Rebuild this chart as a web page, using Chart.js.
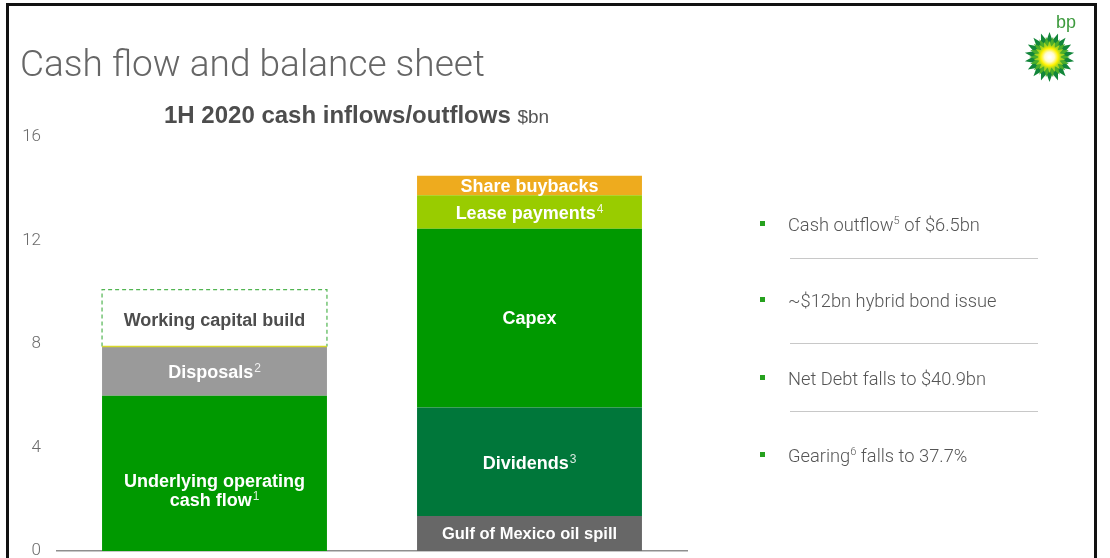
<!DOCTYPE html>
<html>
<head>
<meta charset="utf-8">
<script src="https://cdn.jsdelivr.net/npm/chart.js@4.4.1/dist/chart.umd.min.js"></script>
<style>
  html, body { margin:0; padding:0; width:1110px; height:558px; overflow:hidden; background:#fff; }
  #frame { position:absolute; left:6px; top:3px; width:1085px; height:600px; border:3px solid #111; box-sizing:content-box; }
  #chart { position:absolute; left:0; top:0; }
  .t { position:absolute; white-space:nowrap; }
  #title { left:20px; top:45px; font-family:'Roboto'; font-weight:300; font-size:37px; line-height:37px; color:#666; }
  #subtitle { left:164px; top:103px; font-family:'Liberation Sans'; font-weight:bold; font-size:24px; line-height:24px; color:#4d4d4d; }
  #subtitle span { font-weight:normal; font-size:19px; color:#555; }
  .bul { position:absolute; width:5px; height:5px; background:#26a11e; }
  .pt { position:absolute; left:788px; font-family:'Roboto'; font-weight:300; font-size:18.3px; line-height:18px; color:#555; white-space:nowrap; }
  .pt sup { font-size:11px; line-height:0; vertical-align:7px; }
  .sep { position:absolute; left:790px; width:248px; height:1px; background:#c8c8c8; }
  #bp { left:1056px; top:13px; font-family:'Liberation Sans'; font-size:18px; line-height:18px; color:#3c9a3c; }
</style>
</head>
<body>
<div id="frame"></div>
<canvas id="chart" width="1110" height="580" style="width:1110px;height:580px"></canvas>
<div class="t" id="title">Cash flow and balance sheet</div>
<div class="t" id="subtitle">1H 2020 cash inflows/outflows <span>$bn</span></div>
<div class="t" id="bp">bp</div>

<div class="bul" style="left:760px;top:221px"></div>
<div class="pt" style="top:216px">Cash outflow<sup>5</sup> of $6.5bn</div>
<div class="sep" style="top:258px"></div>
<div class="bul" style="left:760px;top:297px"></div>
<div class="pt" style="top:292px">~$12bn hybrid bond issue</div>
<div class="sep" style="top:343px"></div>
<div class="bul" style="left:760px;top:375px"></div>
<div class="pt" style="top:370px">Net Debt falls to $40.9bn</div>
<div class="sep" style="top:411px"></div>
<div class="bul" style="left:760px;top:452px"></div>
<div class="pt" style="top:447px">Gearing<sup>6</sup> falls to 37.7%</div>

<script>
// ---- data ----
const categories = ['Inflows', 'Outflows'];
const inflowLabels = ['Underlying operating\ncash flow', 'Disposals', 'Working capital build'];
const inflowNotes = ['1', '2', ''];
const inflowValues = [6.0, 1.9, 2.2];
const outflowLabels = ['Gulf of Mexico oil spill', 'Dividends', 'Capex', 'Lease payments', 'Share buybacks'];
const outflowNotes = ['', '3', '', '4', ''];
const outflowValues = [1.35, 4.2, 6.9, 1.3, 0.75];
const yTicks = [0, 4, 8, 12, 16];

// ---- styles ----
const inflowColors = ['#009900', '#9a9a9a', '#ffffff'];
const outflowColors = ['#676767', '#00773a', '#009900', '#99cc00', '#eeab1e'];
const inflowTextColors = ['#ffffff', '#ffffff', '#4d4d4d'];
const outflowTextColors = ['#ffffff', '#ffffff', '#ffffff', '#ffffff', '#ffffff'];
const inflowFontSize = [18, 18, 18];
const outflowFontSize = [16.5, 18, 18, 18, 18];
const inflowLabelShift = [17, 0, 1.5];
const outflowLabelShift = [0, 1, -1, 0, 0];
const dashedIndex = 2; // working capital build segment is outlined

const layers = Math.max(inflowValues.length, outflowValues.length);
const datasets = [];
for (let i = 0; i < layers; i++) {
  datasets.push({
    data: [i < inflowValues.length ? inflowValues[i] : null, i < outflowValues.length ? outflowValues[i] : null],
    backgroundColor: [inflowColors[i] || '#fff', outflowColors[i] || '#fff'],
    borderWidth: 0,
    categoryPercentage: 1,
    barPercentage: 0.714
  });
}

const segmentLabels = {
  id: 'segmentLabels',
  afterDatasetsDraw(chart) {
    const ctx = chart.ctx;
    ctx.save();
    chart.data.datasets.forEach((ds, d) => {
      const meta = chart.getDatasetMeta(d);
      meta.data.forEach((el, c) => {
        const v = ds.data[c];
        if (v === null || v === undefined) return;
        const p = el.getProps(['x', 'y', 'base', 'width'], true);
        const lab = c === 0 ? inflowLabels[d] : outflowLabels[d];
        const note = c === 0 ? inflowNotes[d] : outflowNotes[d];
        const col = c === 0 ? inflowTextColors[d] : outflowTextColors[d];
        const shift = c === 0 ? inflowLabelShift[d] : outflowLabelShift[d];
        const fs = c === 0 ? inflowFontSize[d] : outflowFontSize[d];
        if (c === 0 && d === dashedIndex) {
          ctx.save();
          ctx.setLineDash([4, 3]);
          ctx.strokeStyle = '#52b552';
          ctx.lineWidth = 1.2;
          const l = p.x - p.width / 2, r = p.x + p.width / 2;
          ctx.beginPath();
          ctx.moveTo(l, p.base); ctx.lineTo(l, p.y); ctx.lineTo(r, p.y); ctx.lineTo(r, p.base);
          ctx.stroke();
          ctx.setLineDash([]);
          ctx.strokeStyle = '#d8d82a';
          ctx.lineWidth = 1.5;
          ctx.beginPath(); ctx.moveTo(l, p.base); ctx.lineTo(r, p.base); ctx.stroke();
          ctx.restore();
        }
        const lines = lab.split('\n');
        const lh = 19;
        const cy = (p.y + p.base) / 2 + shift;
        const mainFont = 'bold ' + fs + 'px "Liberation Sans"';
        const supFont = '12px "Liberation Sans"';
        lines.forEach((ln, k) => {
          const isLast = k === lines.length - 1;
          const by = cy + (k - (lines.length - 1) / 2) * lh + fs * 0.36;
          ctx.font = mainFont;
          const w1 = ctx.measureText(ln).width;
          let w2 = 0;
          if (isLast && note) { ctx.font = supFont; w2 = ctx.measureText(note).width + 1; }
          const sx = p.x - (w1 + w2) / 2;
          ctx.textAlign = 'left';
          ctx.textBaseline = 'alphabetic';
          ctx.font = mainFont;
          ctx.fillStyle = col;
          ctx.fillText(ln, sx, by);
          if (isLast && note) {
            ctx.font = supFont;
            ctx.fillStyle = 'rgba(255,255,255,0.85)';
            ctx.fillText(note, sx + w1 + 1, by - 6);
          }
        });
      });
    });
    ctx.restore();
  }
};

const helios = {
  id: 'helios',
  afterDraw(chart) {
    const ctx = chart.ctx;
    const cx = 1049.5, cy = 57;
    function star(n, ro, ri, rot, color) {
      ctx.beginPath();
      for (let k = 0; k < n * 2; k++) {
        const r = k % 2 === 0 ? ro : ri;
        const a = rot + k * Math.PI / n;
        const px = cx + r * Math.cos(a), py = cy + r * Math.sin(a);
        if (k === 0) ctx.moveTo(px, py); else ctx.lineTo(px, py);
      }
      ctx.closePath();
      ctx.fillStyle = color;
      ctx.fill();
    }
    ctx.save();
    star(18, 25, 17, -Math.PI / 2, '#12863a');
    star(18, 20.5, 13.5, -Math.PI / 2 + Math.PI / 18, '#4cae2a');
    star(18, 16, 10.5, -Math.PI / 2, '#a8d41e');
    const g = ctx.createRadialGradient(cx, cy, 1, cx, cy, 12);
    g.addColorStop(0, '#ffffff');
    g.addColorStop(0.35, '#fffbd0');
    g.addColorStop(0.7, '#fff200');
    g.addColorStop(1, 'rgba(230,230,0,0)');
    ctx.fillStyle = g;
    ctx.beginPath(); ctx.arc(cx, cy, 12, 0, Math.PI * 2); ctx.fill();
    ctx.restore();
  }
};

new Chart(document.getElementById('chart'), {
  type: 'bar',
  data: { labels: categories, datasets: datasets },
  plugins: [segmentLabels, helios],
  options: {
    responsive: false,
    animation: false,
    layout: { padding: { top: 137, bottom: 29, left: 0, right: 423 } },
    plugins: { legend: { display: false }, tooltip: { enabled: false } },
    scales: {
      x: {
        stacked: true,
        grid: { display: false },
        ticks: { display: false },
        border: { display: true, color: '#8f8f8f', width: 1.5 },
        afterFit(s) { s.height = 0; }
      },
      y: {
        stacked: true,
        min: 0, max: 16,
        grid: { display: false, drawTicks: false },
        border: { display: false },
        ticks: { padding: 16, color: '#6b6b6b', font: { family: 'Roboto', size: 17, weight: 300 } },
        afterBuildTicks(s) { s.ticks = yTicks.map(v => ({ value: v })); },
        afterFit(s) { s.width = 57; }
      }
    }
  }
});
</script>
</body>
</html>
